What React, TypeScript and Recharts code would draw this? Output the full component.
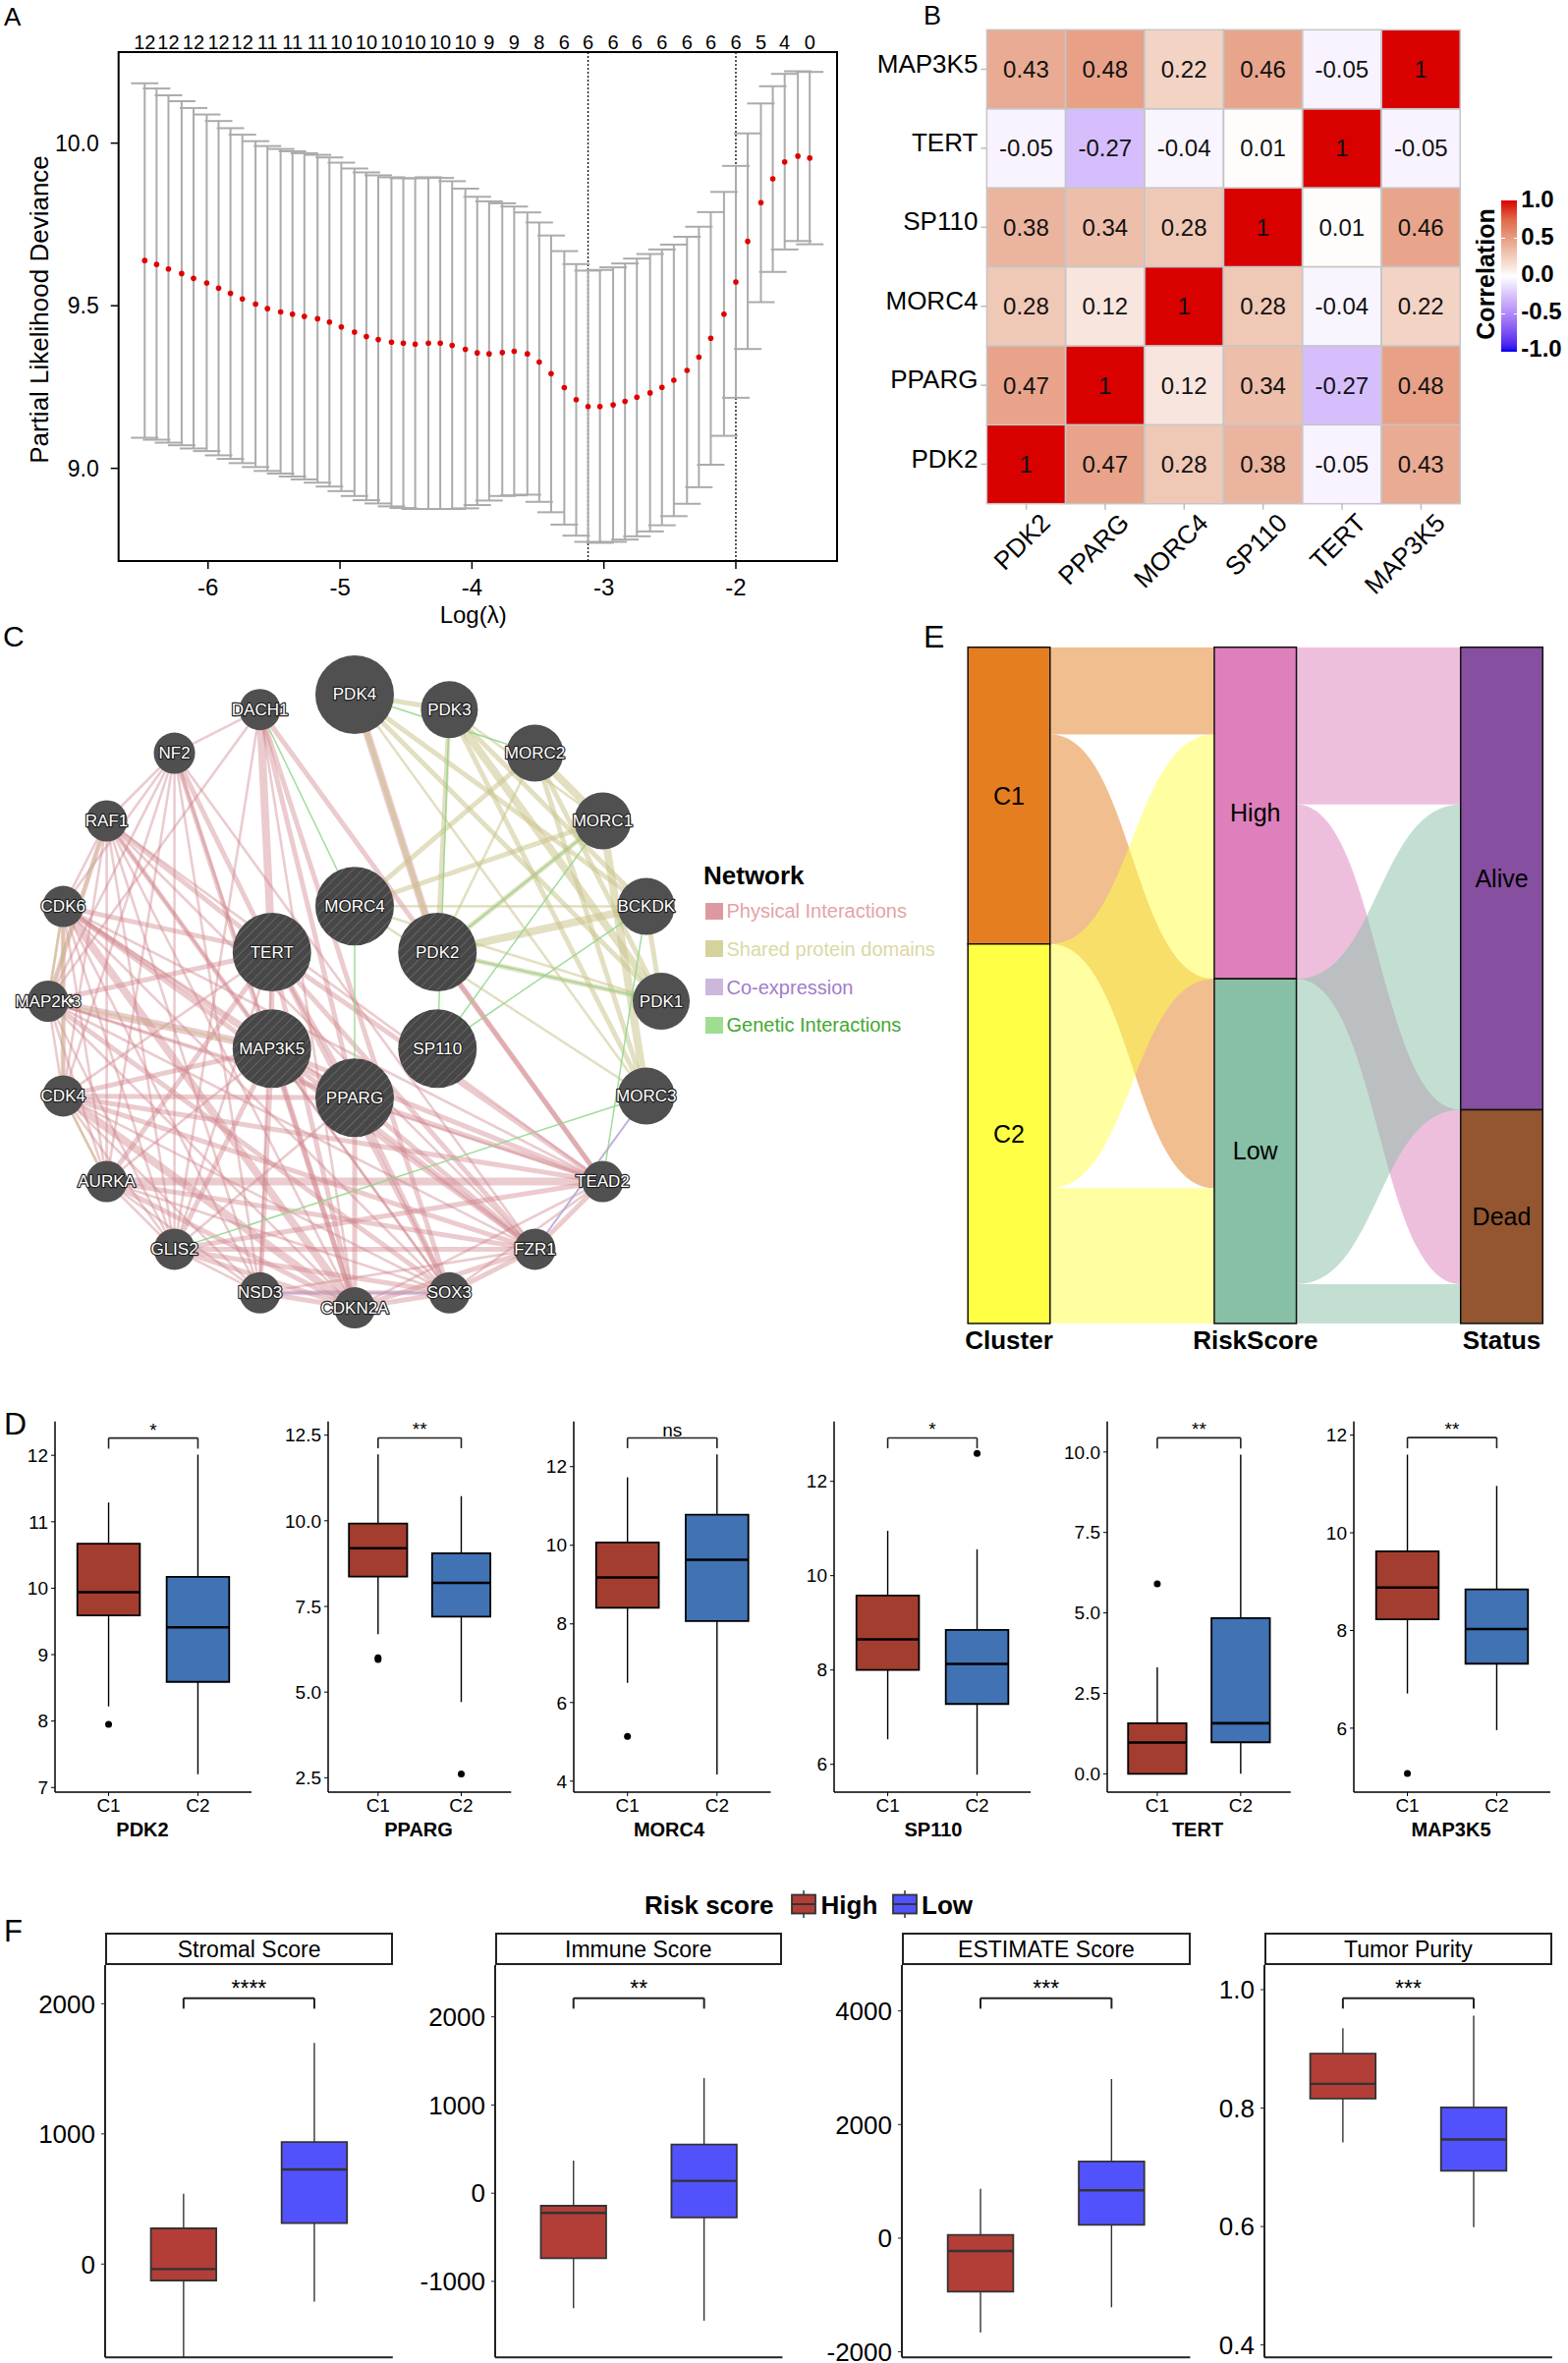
import React from "react";
import {
  ComposedChart, BarChart, Bar, Area, Scatter, XAxis, YAxis, ErrorBar,
  ReferenceLine, ReferenceArea, ReferenceDot,
} from "recharts";

const FONT = '"Liberation Sans", Arial, Helvetica, sans-serif';

// ---------- A: lasso cross-validation ----------
const lassoLogLambda = [
  -6.48, -6.39, -6.3, -6.2, -6.11, -6.01, -5.92, -5.83, -5.74, -5.64, -5.55, -5.45, -5.36, -5.27,
  -5.17, -5.08, -4.99, -4.89, -4.8, -4.71, -4.61, -4.52, -4.43, -4.33, -4.24, -4.15, -4.05, -3.96,
  -3.87, -3.77, -3.68, -3.58, -3.49, -3.4, -3.3, -3.21, -3.12, -3.03, -2.93, -2.84, -2.75, -2.65,
  -2.56, -2.47, -2.37, -2.28, -2.19, -2.09, -2.0, -1.91, -1.81, -1.72, -1.63, -1.53, -1.44,
];
const lassoDeviance = [
  9.639, 9.627, 9.613, 9.599, 9.584, 9.57, 9.554, 9.538, 9.521, 9.505, 9.491, 9.481, 9.474, 9.467,
  9.46, 9.45, 9.435, 9.419, 9.405, 9.396, 9.388, 9.385, 9.382, 9.385, 9.385, 9.378, 9.366, 9.355,
  9.352, 9.356, 9.36, 9.352, 9.327, 9.291, 9.248, 9.211, 9.19, 9.19, 9.195, 9.206, 9.219, 9.232,
  9.249, 9.271, 9.301, 9.342, 9.4, 9.474, 9.573, 9.698, 9.817, 9.89, 9.942, 9.96, 9.954,
];
const lassoUpper = [
  10.184, 10.168, 10.147, 10.129, 10.108, 10.088, 10.068, 10.046, 10.026, 10.006, 9.991, 9.982, 9.975, 9.969,
  9.964, 9.956, 9.94, 9.922, 9.91, 9.901, 9.895, 9.892, 9.892, 9.895, 9.893, 9.883, 9.86, 9.835,
  9.821, 9.815, 9.805, 9.787, 9.756, 9.716, 9.668, 9.628, 9.608, 9.61, 9.618, 9.63, 9.645, 9.659,
  9.673, 9.688, 9.712, 9.743, 9.788, 9.85, 9.93, 10.03, 10.122, 10.175, 10.213, 10.221, 10.219,
];
const lassoLower = [
  9.094, 9.088, 9.079, 9.071, 9.061, 9.053, 9.04, 9.029, 9.016, 9.004, 8.992, 8.984, 8.975, 8.966,
  8.956, 8.944, 8.93, 8.915, 8.902, 8.892, 8.883, 8.878, 8.875, 8.875, 8.875, 8.875, 8.877, 8.887,
  8.901, 8.915, 8.917, 8.919, 8.897, 8.865, 8.827, 8.793, 8.774, 8.771, 8.774, 8.781, 8.791, 8.806,
  8.825, 8.853, 8.891, 8.942, 9.011, 9.1, 9.217, 9.367, 9.511, 9.604, 9.673, 9.699, 9.689,
];
// number of non-zero coefficients, labelled at every other lambda
const lassoNonzero = [12, 12, 12, 12, 12, 11, 11, 11, 10, 10, 10, 10, 10, 10, 9, 9, 8, 6, 6, 6, 6, 6, 6, 6, 6, 5, 4, 0];
const LAMBDA_MIN_IDX = 36;
const LAMBDA_1SE_IDX = 48;

// ---------- B: correlation heatmap ----------
const corrGenes = ["PDK2", "PPARG", "MORC4", "SP110", "TERT", "MAP3K5"];
const corrMatrix = [
  [1, 0.47, 0.28, 0.38, -0.05, 0.43],
  [0.47, 1, 0.12, 0.34, -0.27, 0.48],
  [0.28, 0.12, 1, 0.28, -0.04, 0.22],
  [0.38, 0.34, 0.28, 1, 0.01, 0.46],
  [-0.05, -0.27, -0.04, 0.01, 1, -0.05],
  [0.43, 0.48, 0.22, 0.46, -0.05, 1],
];
const corrLegendTicks = [1, 0.5, 0, -0.5, -1];

// ---------- C: GeneMANIA network ----------
const netNodes = [
  { id: "PDK4", x: 0, y: 1, kind: "big" },
  { id: "PDK3", x: 0.309, y: 0.951, kind: "mid" },
  { id: "MORC2", x: 0.588, y: 0.809, kind: "mid" },
  { id: "MORC1", x: 0.809, y: 0.588, kind: "mid" },
  { id: "BCKDK", x: 0.951, y: 0.309, kind: "mid" },
  { id: "PDK1", x: 1, y: 0, kind: "mid" },
  { id: "MORC3", x: 0.951, y: -0.309, kind: "mid" },
  { id: "TEAD2", x: 0.809, y: -0.588, kind: "small" },
  { id: "FZR1", x: 0.588, y: -0.809, kind: "small" },
  { id: "SOX3", x: 0.309, y: -0.951, kind: "small" },
  { id: "CDKN2A", x: 0, y: -1, kind: "small" },
  { id: "NSD3", x: -0.309, y: -0.951, kind: "small" },
  { id: "GLIS2", x: -0.588, y: -0.809, kind: "small" },
  { id: "AURKA", x: -0.809, y: -0.588, kind: "small" },
  { id: "CDK4", x: -0.951, y: -0.309, kind: "small" },
  { id: "MAP2K3", x: -1, y: 0, kind: "small" },
  { id: "CDK6", x: -0.951, y: 0.309, kind: "small" },
  { id: "RAF1", x: -0.809, y: 0.588, kind: "small" },
  { id: "NF2", x: -0.588, y: 0.809, kind: "small" },
  { id: "DACH1", x: -0.309, y: 0.951, kind: "small" },
  { id: "MORC4", x: 0, y: 0.31, kind: "query" },
  { id: "TERT", x: -0.27, y: 0.16, kind: "query" },
  { id: "PDK2", x: 0.27, y: 0.16, kind: "query" },
  { id: "MAP3K5", x: -0.27, y: -0.155, kind: "query" },
  { id: "SP110", x: 0.27, y: -0.155, kind: "query" },
  { id: "PPARG", x: 0, y: -0.315, kind: "query" },
];
const physicalEdges: [string, string, number][] = [
  ["NF2", "DACH1", 1], ["NF2", "RAF1", 1], ["NF2", "CDK6", 1], ["NF2", "MAP2K3", 1], ["NF2", "CDK4", 1],
  ["NF2", "AURKA", 1], ["NF2", "GLIS2", 1], ["NF2", "TERT", 2], ["NF2", "MAP3K5", 1], ["NF2", "CDKN2A", 2],
  ["NF2", "FZR1", 1], ["NF2", "NSD3", 1],
  ["RAF1", "CDK6", 1], ["RAF1", "MAP2K3", 2], ["RAF1", "CDK4", 1], ["RAF1", "AURKA", 1], ["RAF1", "GLIS2", 1],
  ["RAF1", "NSD3", 1], ["RAF1", "CDKN2A", 1], ["RAF1", "SOX3", 1], ["RAF1", "FZR1", 1], ["RAF1", "TERT", 2],
  ["RAF1", "MAP3K5", 2], ["RAF1", "TEAD2", 1],
  ["DACH1", "TERT", 3], ["DACH1", "PPARG", 2], ["DACH1", "SOX3", 2], ["DACH1", "CDKN2A", 1], ["DACH1", "GLIS2", 1],
  ["DACH1", "MAP2K3", 1], ["DACH1", "TEAD2", 2],
  ["CDK6", "MAP2K3", 1], ["CDK6", "CDK4", 2], ["CDK6", "AURKA", 1], ["CDK6", "GLIS2", 1], ["CDK6", "NSD3", 1],
  ["CDK6", "CDKN2A", 3], ["CDK6", "SOX3", 1], ["CDK6", "FZR1", 2], ["CDK6", "TEAD2", 1], ["CDK6", "TERT", 2],
  ["CDK6", "MAP3K5", 2], ["CDK6", "PPARG", 1],
  ["MAP2K3", "CDK4", 1], ["MAP2K3", "AURKA", 1], ["MAP2K3", "GLIS2", 1], ["MAP2K3", "CDKN2A", 1], ["MAP2K3", "SOX3", 2],
  ["MAP2K3", "FZR1", 1], ["MAP2K3", "TEAD2", 1], ["MAP2K3", "MAP3K5", 3], ["MAP2K3", "TERT", 2], ["MAP2K3", "PPARG", 1],
  ["CDK4", "AURKA", 1], ["CDK4", "GLIS2", 1], ["CDK4", "NSD3", 1], ["CDK4", "CDKN2A", 3], ["CDK4", "SOX3", 1],
  ["CDK4", "FZR1", 2], ["CDK4", "TEAD2", 2], ["CDK4", "TERT", 1], ["CDK4", "MAP3K5", 2], ["CDK4", "PPARG", 2],
  ["AURKA", "GLIS2", 1], ["AURKA", "NSD3", 1], ["AURKA", "CDKN2A", 2], ["AURKA", "SOX3", 1], ["AURKA", "FZR1", 2],
  ["AURKA", "TEAD2", 3], ["AURKA", "TERT", 2], ["AURKA", "MAP3K5", 1],
  ["GLIS2", "NSD3", 1], ["GLIS2", "CDKN2A", 2], ["GLIS2", "SOX3", 2], ["GLIS2", "FZR1", 2], ["GLIS2", "TEAD2", 2],
  ["GLIS2", "TERT", 1], ["GLIS2", "MAP3K5", 2], ["GLIS2", "PPARG", 1],
  ["NSD3", "CDKN2A", 2], ["NSD3", "SOX3", 2], ["NSD3", "FZR1", 1], ["NSD3", "TERT", 1], ["NSD3", "MAP3K5", 2],
  ["CDKN2A", "SOX3", 2], ["CDKN2A", "FZR1", 2], ["CDKN2A", "TEAD2", 1], ["CDKN2A", "TERT", 2], ["CDKN2A", "MAP3K5", 2],
  ["CDKN2A", "PPARG", 2],
  ["SOX3", "FZR1", 2], ["SOX3", "TEAD2", 1], ["SOX3", "TERT", 2], ["SOX3", "PPARG", 2], ["SOX3", "MAP3K5", 1],
  ["FZR1", "TEAD2", 2], ["FZR1", "TERT", 2], ["FZR1", "PPARG", 2], ["FZR1", "MAP3K5", 2],
  ["TEAD2", "TERT", 2], ["TEAD2", "MAP3K5", 2], ["TEAD2", "PPARG", 2], ["TEAD2", "PDK2", 2],
  ["TERT", "MAP3K5", 2], ["TERT", "PPARG", 2], ["PDK4", "PDK2", 3], ["PPARG", "MAP3K5", 2],
];
const domainEdges: [string, string, number][] = [
  ["PDK4", "PDK3", 2], ["PDK4", "PDK2", 2], ["PDK4", "PDK1", 2], ["PDK4", "BCKDK", 2], ["PDK3", "PDK2", 2],
  ["PDK3", "PDK1", 3], ["PDK3", "BCKDK", 2], ["PDK2", "PDK1", 2], ["PDK2", "BCKDK", 3], ["PDK1", "BCKDK", 2],
  ["MORC4", "MORC2", 2], ["MORC4", "MORC1", 2], ["MORC4", "MORC3", 1], ["MORC2", "MORC1", 3], ["MORC2", "MORC3", 2],
  ["MORC1", "MORC3", 3], ["MORC1", "PDK2", 2], ["BCKDK", "MORC4", 1], ["PDK1", "MORC4", 1], ["MORC2", "PDK2", 1],
  ["PDK3", "MORC3", 2], ["PDK4", "MORC3", 1], ["MORC2", "PDK1", 2], ["MORC1", "PDK3", 1],
  ["CDK4", "CDK6", 1], ["MAP2K3", "RAF1", 1], ["CDK4", "AURKA", 1], ["MAP2K3", "CDK6", 1], ["MAP3K5", "MAP2K3", 1],
];
const geneticEdges: [string, string][] = [
  ["PDK3", "SP110"], ["MORC1", "SP110"], ["BCKDK", "SP110"], ["MORC3", "GLIS2"], ["DACH1", "MORC4"],
  ["MORC4", "PPARG"], ["PDK1", "PDK2"], ["BCKDK", "TEAD2"], ["MORC2", "PDK4"], ["MORC1", "PDK2"],
];
const coexpEdges: [string, string][] = [["MORC3", "FZR1"], ["NSD3", "SOX3"]];
const netLegend = [
  { name: "Physical Interactions", box: "#dc9aa0", text: "#e6a2a8" },
  { name: "Shared protein domains", box: "#d6d29c", text: "#dcd8a4" },
  { name: "Co-expression", box: "#cbb8dc", text: "#a27ccb" },
  { name: "Genetic Interactions", box: "#9fdd92", text: "#45a832" },
];

// ---------- D: expression by cluster ----------
const dGenes = ["PDK2", "PPARG", "MORC4", "SP110", "TERT", "MAP3K5"];
const dGroups = ["C1", "C2"];
// [min, q1, median, q3, max]
const dC1 = [
  [8.22, 9.59, 9.94, 10.67, 11.29], [6.69, 8.37, 9.2, 9.92, 11.94], [6.5, 8.41, 9.18, 10.07, 11.73],
  [6.53, 8.0, 8.65, 9.58, 10.95], [0, 0, 0.97, 1.57, 3.31], [6.71, 8.23, 8.88, 9.62, 11.6],
];
const dC2 = [
  [7.2, 8.59, 9.41, 10.17, 12.01], [4.71, 7.2, 8.19, 9.05, 10.72], [4.17, 8.07, 9.63, 10.78, 12.31],
  [5.78, 7.28, 8.13, 8.85, 10.56], [0, 0.98, 1.57, 4.84, 9.92], [5.96, 7.32, 8.03, 8.84, 10.96],
];
const dOutC1 = [[7.95], [5.95, 6.0], [5.14], [], [5.9], [5.07]];
const dOutC2 = [[], [2.61], [], [12.59], [], []];
const dSig = ["*", "**", "ns", "*", "**", "**"];
const dBracket = [[12.26, 12.1], [12.42, 12.12], [12.73, 12.47], [12.92, 12.7], [10.44, 10.11], [11.95, 11.73]];
const dTicks = [[7, 8, 9, 10, 11, 12], [2.5, 5, 7.5, 10, 12.5], [4, 6, 8, 10, 12], [6, 8, 10, 12], [0, 2.5, 5, 7.5, 10], [6, 8, 10, 12]];
const dLimits = [[6.93, 12.51], [2.08, 12.9], [3.72, 13.15], [5.41, 13.27], [-0.57, 10.95], [4.69, 12.28]];

// ---------- E: alluvial ----------
const clusterNames = ["C1", "C2"];
const riskNames = ["High", "Low"];
const statusNames = ["Alive", "Dead"];
const axisNames = ["Cluster", "RiskScore", "Status"];
const clusterRiskCounts = [[20, 48], [56, 31]];
const riskStatusCounts = [[36, 40], [70, 9]];

// ---------- F: ESTIMATE by risk ----------
const fScores = ["Stromal Score", "Immune Score", "ESTIMATE Score", "Tumor Purity"];
const fGroups = ["High", "Low"];
const fHigh = [
  [-717, -126, -38, 274, 541], [-1305, -737, -224, -143, 370], [-1660, -940, -225, 58, 870], [0.742, 0.816, 0.841, 0.892, 0.935],
];
const fLow = [
  [-289, 314, 727, 938, 1698], [-1446, -276, 140, 552, 1306], [-1216, 236, 842, 1349, 2801], [0.599, 0.694, 0.747, 0.801, 0.956],
];
const fSig = ["****", "**", "***", "***"];
const fBracket = [[2043, 1962], [2212, 2093], [4225, 4040], [0.9856, 0.968]];
const fTicks = [[0, 1000, 2000], [-1000, 0, 1000, 2000], [-2000, 0, 2000, 4000], [0.4, 0.6, 0.8, 1.0]];
const fLimits = [[-717, 2297], [-1862, 2587], [-2098, 4807], [0.379, 1.0415]];

// ---------- styles / layout ----------
const D_COLORS = ["#a33d2f", "#4072b4"];
const F_COLORS = ["#b33e37", "#5252fd"];
const CLUSTER_COLORS = ["#e47e20", "#ffff44"];
const RISK_COLORS = ["#de80bb", "#87c0a6"];
const STATUS_COLORS = ["#874fa0", "#935630"];
const NODE_R: Record<string, number> = { big: 40, query: 40, mid: 29, small: 21 };
const D_AXIS_X = [56, 333.7, 584, 848.7, 1127, 1377.8];
const D_RIGHT = [256, 520, 784.5, 1048.8, 1313.8, 1577.8];
const D_TITLE_X = [145, 426, 681, 950, 1219, 1477];
const F_AXIS_X = [107.2, 503.6, 918.3, 1286.9];
const F_RIGHT = [400, 796, 1211.7, 1579.8];
// positive side of the correlation palette, as it appears in the figure
const POS_STOPS: [number, number[]][] = [
  [0, [255, 255, 255]], [0.12, [248, 229, 222]], [0.22, [243, 211, 196]], [0.28, [240, 200, 182]],
  [0.34, [237, 190, 170]], [0.38, [235, 180, 158]], [0.46, [232, 165, 140]], [0.75, [225, 105, 72]], [1, [217, 0, 0]],
];

// ---------- helpers ----------
function toLin(c: number) {
  const v = c / 255;
  return v <= 0.04045 ? v / 12.92 : Math.pow((v + 0.055) / 1.055, 2.4);
}
function fromLin(c: number) {
  const v = c <= 0.0031308 ? 12.92 * c : 1.055 * Math.pow(c, 1 / 2.4) - 0.055;
  return Math.round(Math.max(0, Math.min(1, v)) * 255);
}
function rgbToLab(rgb: number[]) {
  const [R, G, B] = rgb.map(toLin);
  const X = (0.4124 * R + 0.3576 * G + 0.1805 * B) / 0.95047;
  const Y = 0.2126 * R + 0.7152 * G + 0.0722 * B;
  const Z = (0.0193 * R + 0.1192 * G + 0.9505 * B) / 1.08883;
  const f = (t: number) => (t > 0.008856 ? Math.cbrt(t) : 7.787 * t + 16 / 116);
  return [116 * f(Y) - 16, 500 * (f(X) - f(Y)), 200 * (f(Y) - f(Z))];
}
function labToCss(lab: number[]) {
  const fy = (lab[0] + 16) / 116;
  const fx = fy + lab[1] / 500;
  const fz = fy - lab[2] / 200;
  const inv = (t: number) => (t * t * t > 0.008856 ? t * t * t : (t - 16 / 116) / 7.787);
  const X = inv(fx) * 0.95047, Y = inv(fy), Z = inv(fz) * 1.08883;
  const R = 3.2406 * X - 1.5372 * Y - 0.4986 * Z;
  const G = -0.9689 * X + 1.8758 * Y + 0.0415 * Z;
  const B = 0.0557 * X - 0.204 * Y + 1.057 * Z;
  return `rgb(${fromLin(R)},${fromLin(G)},${fromLin(B)})`;
}
const LAB_WHITE = rgbToLab([255, 255, 255]);
const LAB_LOW = rgbToLab([0, 0, 236]);
function corrColor(v: number) {
  if (v < 0) {
    const t = Math.min(1, -v);
    return labToCss(LAB_WHITE.map((w, i) => w + (LAB_LOW[i] - w) * t));
  }
  const t = Math.min(1, v);
  let k = 0;
  while (k < POS_STOPS.length - 2 && t > POS_STOPS[k + 1][0]) k++;
  const [t0, c0] = POS_STOPS[k];
  const [t1, c1] = POS_STOPS[k + 1];
  const u = (t - t0) / (t1 - t0);
  const c = c0.map((a, i) => Math.round(a + (c1[i] - a) * u));
  return `rgb(${c[0]},${c[1]},${c[2]})`;
}

function Txt({ x, y, size, children, bold = false, color = "#000", align = "center", rotate = 0 }: any) {
  const tx = align === "center" ? "-50%" : align === "right" ? "-100%" : "0px";
  return (
    <div
      style={{
        position: "absolute", left: x, top: y, fontSize: size, fontWeight: bold ? 700 : 400, color,
        lineHeight: 1, whiteSpace: "nowrap", transform: `translate(${tx}, -50%) rotate(${rotate}deg)`,
      }}
    >
      {children}
    </div>
  );
}

// ---------- A ----------
function LassoPanel() {
  const rows = lassoLogLambda.map((x, i) => ({
    x, y: lassoDeviance[i], err: [lassoDeviance[i] - lassoLower[i], lassoUpper[i] - lassoDeviance[i]],
  }));
  const topTicks = lassoLogLambda.filter((_, i) => i % 2 === 0);
  const xDom = [-6.678, -1.233];
  const yDom = [8.715, 10.28];
  return (
    <div style={{ position: "absolute", left: 0, top: 0 }}>
      <ComposedChart width={880} height={650} margin={{ top: 0, right: 28, bottom: 0, left: 0 }}>
        <XAxis dataKey="x" type="number" domain={xDom} allowDataOverflow ticks={[-6, -5, -4, -3, -2]} interval={0}
          height={79} tickSize={8} tickMargin={10} axisLine={false} tickLine={{ stroke: "#000", strokeWidth: 1.5 }}
          tick={{ fontSize: 24, fill: "#000" }} />
        <XAxis xAxisId="top" orientation="top" dataKey="x" type="number" domain={xDom} allowDataOverflow ticks={topTicks}
          interval={0} height={53} tickSize={0} tickMargin={3} axisLine={false} tickLine={false}
          tickFormatter={(v: number) => String(lassoNonzero[topTicks.indexOf(v)])} tick={{ fontSize: 20, fill: "#000" }} />
        <YAxis dataKey="y" type="number" domain={yDom} allowDataOverflow ticks={[9, 9.5, 10]} interval={0} width={120.7}
          tickSize={8} tickMargin={12} axisLine={false} tickLine={{ stroke: "#000", strokeWidth: 1.5 }}
          tickFormatter={(v: number) => v.toFixed(1)} tick={{ fontSize: 23, fill: "#000" }} />
        <ReferenceArea x1={xDom[0]} x2={xDom[1]} y1={yDom[0]} y2={yDom[1]} fill="none" fillOpacity={0}
          stroke="#000" strokeWidth={2} ifOverflow="visible" />
        <ReferenceLine x={lassoLogLambda[LAMBDA_MIN_IDX]} stroke="#000" strokeWidth={1.3} strokeDasharray="2 2" />
        <ReferenceLine x={lassoLogLambda[LAMBDA_1SE_IDX]} stroke="#000" strokeWidth={1.3} strokeDasharray="2 2" />
        <Scatter data={rows} isAnimationActive={false}
          shape={(p: any) => <circle cx={p.cx} cy={p.cy} r={2.8} fill="#e00000" />}>
          <ErrorBar dataKey="err" direction="y" width={14} stroke="#ababab" strokeWidth={2} />
        </Scatter>
      </ComposedChart>
    </div>
  );
}

// ---------- B ----------
function HeatCell(props: any) {
  const { x, y, width, height, payload, ri } = props;
  const v = corrMatrix[ri][corrGenes.indexOf(payload.col)];
  return (
    <g>
      <rect x={x} y={y} width={width} height={height} fill={corrColor(v)} stroke="#c6c6c6" strokeWidth={1.5} />
      <text x={x + width / 2} y={y + height / 2} textAnchor="middle" dominantBaseline="central" fontSize={24} fill="#111">
        {String(v)}
      </text>
    </g>
  );
}
function ColTick({ x, y, payload }: any) {
  const ax = x + 26, ay = y + 15;
  return (
    <text x={ax} y={ay} textAnchor="end" fontSize={26} fill="#000" transform={`rotate(-45 ${ax} ${ay})`}>
      {payload.value}
    </text>
  );
}
function RowTick({ x, y, payload }: any) {
  return (
    <text x={x} y={y - 6} textAnchor="end" dominantBaseline="central" fontSize={26} fill="#000">
      {corrGenes[Math.floor(payload.value)]}
    </text>
  );
}
function CorrPanel() {
  const data = corrGenes.map((col) => {
    const row: any = { col };
    corrGenes.forEach((g) => (row[g] = 1));
    return row;
  });
  const stops = [];
  for (let k = 0; k <= 40; k++) {
    const v = 1 - k / 20;
    stops.push(`${corrColor(v)} ${(k / 40) * 100}%`);
  }
  return (
    <>
      <div style={{ position: "absolute", left: 830, top: 0 }}>
        <BarChart width={680} height={620} data={data} barCategoryGap={0}
          margin={{ top: 30.3, right: 23.4, bottom: 0, left: 0 }}>
          <XAxis dataKey="col" height={107.3} tickSize={6} tickMargin={0} interval={0} axisLine={false}
            tickLine={{ stroke: "#bdbdbd", strokeWidth: 1.5 }} tick={<ColTick />} />
          <YAxis type="number" domain={[0, 6]} ticks={[0.5, 1.5, 2.5, 3.5, 4.5, 5.5]} interval={0} width={174.4}
            tickSize={6} tickMargin={3} axisLine={false} tickLine={{ stroke: "#bdbdbd", strokeWidth: 1.5 }}
            tick={<RowTick />} />
          {corrGenes.map((g, ri) => (
            <Bar key={g} dataKey={g} stackId="cells" isAnimationActive={false}
              shape={(p: any) => <HeatCell {...p} ri={ri} />} />
          ))}
        </BarChart>
      </div>
      <div style={{ position: "absolute", left: 1528.3, top: 204.3, width: 16, height: 153.4,
        background: `linear-gradient(to bottom, ${stops.join(", ")})` }} />
      {[0.5, 0, -0.5].map((v) => (
        <React.Fragment key={v}>
          <div style={{ position: "absolute", left: 1528.3, top: 280.3 - v * 76.7, width: 3.5, height: 1.5, background: "#fff" }} />
          <div style={{ position: "absolute", left: 1540.8, top: 280.3 - v * 76.7, width: 3.5, height: 1.5, background: "#fff" }} />
        </React.Fragment>
      ))}
      {corrLegendTicks.map((v) => (
        <Txt key={v} x={1548.3} y={279.3 - v * 76} size={24} bold align="left">{v.toFixed(1)}</Txt>
      ))}
      <Txt x={1511.7} y={279} size={25} bold rotate={-90}>Correlation</Txt>
    </>
  );
}

// ---------- C ----------
function NetNode(props: any) {
  const { cx, cy, payload } = props;
  const r = NODE_R[payload.kind];
  const hatch = payload.kind === "query";
  const pid = `hatch-${payload.id}`;
  return (
    <g>
      {hatch && (
        <defs>
          <pattern id={pid} patternUnits="userSpaceOnUse" width={7} height={7} patternTransform="rotate(45)">
            <rect width={7} height={7} fill="#474747" />
            <line x1={0} y1={0} x2={0} y2={7} stroke="#6c6c6c" strokeWidth={1.6} />
          </pattern>
        </defs>
      )}
      <circle cx={cx} cy={cy} r={r} fill={hatch ? `url(#${pid})` : "#505050"} />
      <text x={cx} y={cy} textAnchor="middle" dominantBaseline="central" fontSize={17} fill="#fff"
        stroke="#222" strokeWidth={2.4} strokeLinejoin="round" style={{ paintOrder: "stroke" }}>
        {payload.id}
      </text>
    </g>
  );
}
function NetworkPanel() {
  const pos = (id: string) => {
    const n = netNodes.find((d) => d.id === id)!;
    return { x: n.x, y: n.y };
  };
  const W = [0, 2.6, 5, 8];
  const edge = (a: string, b: string, key: string, stroke: string, w: number, op: number) => (
    <ReferenceLine key={key} segment={[pos(a), pos(b)]} stroke={stroke} strokeWidth={w} strokeOpacity={op}
      ifOverflow="visible" />
  );
  return (
    <>
      <div style={{ position: "absolute", left: 0, top: 640 }}>
        <ComposedChart width={722} height={741} margin={{ top: 17, right: 0, bottom: 0, left: 0 }}>
          <XAxis type="number" dataKey="x" domain={[-1.157, 1.157]} allowDataOverflow hide />
          <YAxis type="number" dataKey="y" domain={[-1.16, 1.16]} allowDataOverflow hide />
          {physicalEdges.map(([a, b, w], i) => edge(a, b, `p${i}`, "#d0828a", W[w], 0.42))}
          {domainEdges.map(([a, b, w], i) => edge(a, b, `d${i}`, "#c8c285", W[w], 0.5))}
          {geneticEdges.map(([a, b], i) => edge(a, b, `g${i}`, "#8fd68a", 1.5, 0.85))}
          {coexpEdges.map(([a, b], i) => edge(a, b, `c${i}`, "#b6a2d6", 2, 0.85))}
          <Scatter data={netNodes} isAnimationActive={false} shape={(p: any) => <NetNode {...p} />} />
        </ComposedChart>
      </div>
      <Txt x={716} y={891} size={26} bold align="left">Network</Txt>
      {netLegend.map((item, i) => (
        <React.Fragment key={item.name}>
          <div style={{ position: "absolute", left: 717.5, top: 927 + i * 38.8 - 8.5, width: 18, height: 17, background: item.box }} />
          <Txt x={739.5} y={927 + i * 38.8} size={20} color={item.text} align="left">{item.name}</Txt>
        </React.Fragment>
      ))}
    </>
  );
}

// ---------- E ----------
function AlluvialPanel() {
  const W = 1 / 3;
  const sum = (a: number[]) => a.reduce((s, v) => s + v, 0);
  const starts = (tot: number[]) => tot.map((_, i) => sum(tot.slice(0, i)));
  const clusterTot = clusterRiskCounts.map(sum);
  const riskTot = riskNames.map((_, r) => sum(clusterRiskCounts.map((row) => row[r])));
  const statusTot = statusNames.map((_, s) => sum(riskStatusCounts.map((row) => row[s])));
  const cS = starts(clusterTot), rS = starts(riskTot), sS = starts(statusTot);
  const rows: any[] = [{ x: 1 + W / 2 }, { x: 2 - W / 2 }, { x: 2 + W / 2 }, { x: 3 - W / 2 }];
  const flows: { key: string; color: string }[] = [];
  const addStage = (M: number[][], srcStart: number[], tgtStart: number[], r0: number, colors: string[], tag: string) => {
    M.forEach((row, i) => row.forEach((n, j) => {
      const a = srcStart[i] + sum(row.slice(0, j));
      const b = tgtStart[j] + sum(M.slice(0, i).map((rr) => rr[j]));
      const key = `${tag}_${i}_${j}`;
      rows[r0][key] = [a, a + n];
      rows[r0 + 1][key] = [b, b + n];
      flows.push({ key, color: colors[i] });
    }));
  };
  addStage(clusterRiskCounts, cS, rS, 0, CLUSTER_COLORS, "s1");
  addStage(riskStatusCounts, rS, sS, 2, RISK_COLORS, "s2");
  const strata = [
    ...clusterNames.map((n, i) => ({ n, col: 1, y0: cS[i], y1: cS[i] + clusterTot[i], c: CLUSTER_COLORS[i] })),
    ...riskNames.map((n, i) => ({ n, col: 2, y0: rS[i], y1: rS[i] + riskTot[i], c: RISK_COLORS[i] })),
    ...statusNames.map((n, i) => ({ n, col: 3, y0: sS[i], y1: sS[i] + statusTot[i], c: STATUS_COLORS[i] })),
  ];
  const total = sum(clusterTot);
  return (
    <div style={{ position: "absolute", left: 940, top: 640 }}>
      <ComposedChart width={656} height={760} data={rows} margin={{ top: 18.8, right: 25.7, bottom: 0, left: 45.2 }}>
        <XAxis type="number" dataKey="x" domain={[1 - W / 2, 3 + W / 2]} allowDataOverflow ticks={[1, 2, 3]} interval={0}
          height={53} tickSize={0} tickMargin={8} axisLine={false} tickLine={false}
          tickFormatter={(v: number) => axisNames[v - 1]} tick={{ fontSize: 26, fontWeight: 700, fill: "#000" }} />
        <YAxis type="number" domain={[0, total]} reversed allowDataOverflow hide />
        {flows.map((f) => (
          <Area key={f.key} dataKey={f.key} type="bumpX" fill={f.color} fillOpacity={0.5} stroke="none"
            dot={false} activeDot={false} isAnimationActive={false} />
        ))}
        {strata.map((s) => (
          <ReferenceArea key={s.n} x1={s.col - W / 2} x2={s.col + W / 2} y1={s.y0} y2={s.y1} fill={s.c} fillOpacity={1}
            stroke="#111" strokeWidth={1.5} ifOverflow="visible"
            label={{ value: s.n, position: "center", fontSize: 25, fill: "#000" }} />
        ))}
      </ComposedChart>
    </div>
  );
}

// ---------- box plot helpers ----------
function boxElements(stats: number[][], colors: string[], half: number, outline: string, medW: number, tag: string) {
  return stats.flatMap((g, k) => {
    const p = k + 1;
    const [mn, q1, md, q3, mx] = g;
    return [
      <ReferenceLine key={`${tag}wu${k}`} segment={[{ x: p, y: q3 }, { x: p, y: mx }]} stroke={outline} strokeWidth={1.4} ifOverflow="visible" />,
      <ReferenceLine key={`${tag}wl${k}`} segment={[{ x: p, y: mn }, { x: p, y: q1 }]} stroke={outline} strokeWidth={1.4} ifOverflow="visible" />,
      <ReferenceArea key={`${tag}b${k}`} x1={p - half} x2={p + half} y1={q1} y2={q3} fill={colors[k]} fillOpacity={1}
        stroke={outline} strokeWidth={1.8} ifOverflow="visible" />,
      <ReferenceLine key={`${tag}m${k}`} segment={[{ x: p - half, y: md }, { x: p + half, y: md }]} stroke={outline}
        strokeWidth={medW} ifOverflow="visible" />,
    ];
  });
}
function bracket(top: number, drop: number, sig: string, size: number, w: number, tag: string) {
  return [
    <ReferenceLine key={`${tag}l`} segment={[{ x: 1, y: drop }, { x: 1, y: top }]} stroke="#222" strokeWidth={w} ifOverflow="visible" />,
    <ReferenceLine key={`${tag}t`} segment={[{ x: 1, y: top }, { x: 2, y: top }]} stroke="#222" strokeWidth={w} ifOverflow="visible" />,
    <ReferenceLine key={`${tag}r`} segment={[{ x: 2, y: top }, { x: 2, y: drop }]} stroke="#222" strokeWidth={w} ifOverflow="visible" />,
    <ReferenceDot key={`${tag}s`} x={1.5} y={top} r={0} fill="none" stroke="none" ifOverflow="visible"
      label={{ value: sig, position: "top", offset: 2, fontSize: size, fill: "#000" }} />,
  ];
}
const fmtTick = (ticks: number[]) => (ticks.some((t) => !Number.isInteger(t)) ? (v: number) => v.toFixed(1) : (v: number) => String(v));

// ---------- D ----------
function ClusterBox({ i }: { i: number }) {
  const yw = 56;
  const width = D_RIGHT[i] - D_AXIS_X[i] + yw + 4;
  const outliers = [...dOutC1[i].map((y) => ({ x: 1, y })), ...dOutC2[i].map((y) => ({ x: 2, y }))];
  const [bt, bd] = dBracket[i];
  return (
    <div style={{ position: "absolute", left: D_AXIS_X[i] - yw, top: 1420 }}>
      <ComposedChart width={width} height={460} margin={{ top: 26.7, right: 4, bottom: 0, left: 0 }}>
        <XAxis type="number" dataKey="x" domain={[0.4, 2.6]} allowDataOverflow ticks={[1, 2]} interval={0} height={56}
          tickSize={4} tickMargin={3} axisLine={{ stroke: "#000", strokeWidth: 1.5 }} tickLine={{ stroke: "#000" }}
          tickFormatter={(v: number) => dGroups[v - 1]} tick={{ fontSize: 19, fill: "#000" }} />
        <YAxis type="number" dataKey="y" domain={dLimits[i]} allowDataOverflow ticks={dTicks[i]} interval={0} width={yw}
          tickSize={4} tickMargin={3} axisLine={{ stroke: "#000", strokeWidth: 1.5 }} tickLine={{ stroke: "#000" }}
          tickFormatter={fmtTick(dTicks[i])} tick={{ fontSize: 19, fill: "#000" }} />
        {boxElements([dC1[i], dC2[i]], D_COLORS, 0.35, "#000", 2.6, `d${i}`)}
        {bracket(bt, bd, dSig[i], 19, 1.6, `db${i}`)}
        {outliers.length > 0 && (
          <Scatter data={outliers} isAnimationActive={false}
            shape={(p: any) => <circle cx={p.cx} cy={p.cy} r={3.5} fill="#000" />} />
        )}
      </ComposedChart>
    </div>
  );
}

// ---------- F ----------
function RiskBox({ i }: { i: number }) {
  const yw = 90;
  const width = F_RIGHT[i] - F_AXIS_X[i] + yw + 4;
  const [bt, bd] = fBracket[i];
  return (
    <>
      <div style={{ position: "absolute", left: F_AXIS_X[i], top: 1966.7, width: F_RIGHT[i] - F_AXIS_X[i], height: 33.3,
        border: "2px solid #222", boxSizing: "border-box" }} />
      <Txt x={(F_AXIS_X[i] + F_RIGHT[i]) / 2} y={1983.5} size={23}>{fScores[i]}</Txt>
      <div style={{ position: "absolute", left: F_AXIS_X[i] - yw, top: 1995 }}>
        <ComposedChart width={width} height={410} margin={{ top: 5, right: 4, bottom: 0, left: 0 }}>
          <XAxis type="number" dataKey="x" domain={[0.4, 2.6]} allowDataOverflow ticks={[1, 2]} height={5.7}
            tick={false} tickLine={false} axisLine={{ stroke: "#222", strokeWidth: 2 }} />
          <YAxis type="number" dataKey="y" domain={fLimits[i]} allowDataOverflow ticks={fTicks[i]} interval={0} width={yw}
            tickSize={4} tickMargin={6} axisLine={{ stroke: "#222", strokeWidth: 2 }} tickLine={{ stroke: "#222" }}
            tickFormatter={fmtTick(fTicks[i])} tick={{ fontSize: 26, fill: "#000" }} />
          {boxElements([fHigh[i], fLow[i]], F_COLORS, 0.25, "#333", 2.4, `f${i}`)}
          {bracket(bt, bd, fSig[i], 23, 2, `fb${i}`)}
        </ComposedChart>
      </div>
    </>
  );
}
function LegendKey({ x, color }: { x: number; color: string }) {
  return (
    <svg style={{ position: "absolute", left: x, top: 1924 }} width={26} height={28}>
      <line x1={13} y1={0} x2={13} y2={28} stroke="#333" strokeWidth={1.5} />
      <rect x={1} y={4.5} width={24} height={19} fill={color} stroke="#333" strokeWidth={1.8} />
      <line x1={1} y1={14} x2={25} y2={14} stroke="#333" strokeWidth={2} />
    </svg>
  );
}

export default function App() {
  return (
    <div style={{ position: "relative", width: 1596, height: 2405, background: "#fff", fontFamily: FONT, overflow: "hidden" }}>
      <style>{"body{margin:0}"}</style>
      <Txt x={4} y={16.6} size={26} align="left">A</Txt>
      <Txt x={940} y={16} size={27} align="left">B</Txt>
      <Txt x={3} y={648} size={30} align="left">C</Txt>
      <Txt x={940} y={647.6} size={32} align="left">E</Txt>
      <Txt x={4} y={1448.7} size={32} align="left">D</Txt>
      <Txt x={4} y={1964.7} size={31} align="left">F</Txt>

      <LassoPanel />
      <Txt x={39.7} y={315} size={26} rotate={-90}>Partial Likelihood Deviance</Txt>
      <Txt x={481.7} y={626} size={24}>Log(λ)</Txt>

      <CorrPanel />
      <NetworkPanel />
      <AlluvialPanel />

      {dGenes.map((g, i) => (
        <React.Fragment key={g}>
          <ClusterBox i={i} />
          <Txt x={D_TITLE_X[i]} y={1861.5} size={20} bold>{g}</Txt>
        </React.Fragment>
      ))}

      <Txt x={656} y={1939} size={26} bold align="left">Risk score</Txt>
      <LegendKey x={805} color={F_COLORS[0]} />
      <Txt x={835.5} y={1939} size={26} bold align="left">{fGroups[0]}</Txt>
      <LegendKey x={908} color={F_COLORS[1]} />
      <Txt x={938} y={1939} size={26} bold align="left">{fGroups[1]}</Txt>
      {fScores.map((s, i) => (
        <RiskBox key={s} i={i} />
      ))}
    </div>
  );
}
